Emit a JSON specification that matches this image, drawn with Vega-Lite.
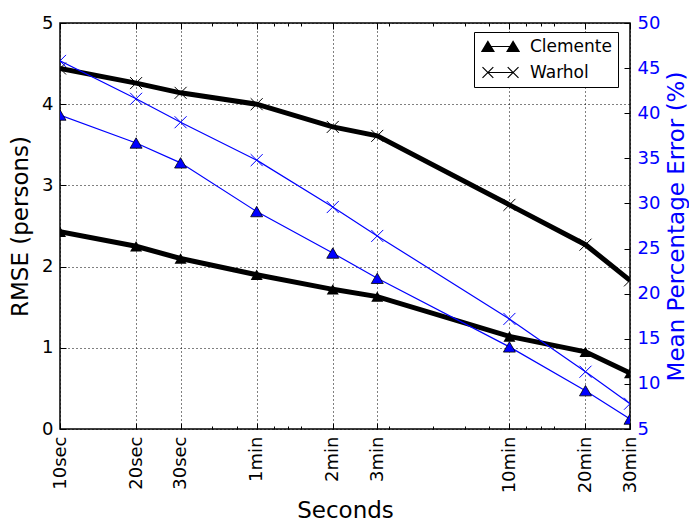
{
  "$schema": "https://vega.github.io/schema/vega-lite/v6.json",
  "width": 570,
  "height": 406,
  "autosize": {"type": "none"},
  "padding": {"left": 60, "top": 23, "right": 59, "bottom": 93},
  "background": "white",
  "config": {
    "view": {"stroke": "black", "strokeWidth": 1.5},
    "font": "DejaVu Sans",
    "axis": {
      "labelFont": "DejaVu Sans",
      "titleFont": "DejaVu Sans",
      "labelFontSize": 18,
      "titleFontSize": 23,
      "titleFontWeight": "normal",
      "labelColor": "black",
      "titleColor": "black",
      "tickColor": "black",
      "domain": false,
      "grid": false
    }
  },
  "data": {
    "values": [
      {"t": 10, "series": "Clemente", "rmse": 2.43, "mpe": 39.8},
      {"t": 20, "series": "Clemente", "rmse": 2.25, "mpe": 36.7},
      {"t": 30, "series": "Clemente", "rmse": 2.10, "mpe": 34.5},
      {"t": 60, "series": "Clemente", "rmse": 1.90, "mpe": 29.1},
      {"t": 120, "series": "Clemente", "rmse": 1.72, "mpe": 24.5},
      {"t": 180, "series": "Clemente", "rmse": 1.63, "mpe": 21.7},
      {"t": 600, "series": "Clemente", "rmse": 1.14, "mpe": 14.1},
      {"t": 1200, "series": "Clemente", "rmse": 0.95, "mpe": 9.25},
      {"t": 1800, "series": "Clemente", "rmse": 0.69, "mpe": 6.1},
      {"t": 10, "series": "Warhol", "rmse": 4.44, "mpe": 45.8},
      {"t": 20, "series": "Warhol", "rmse": 4.26, "mpe": 41.6},
      {"t": 30, "series": "Warhol", "rmse": 4.14, "mpe": 39.0},
      {"t": 60, "series": "Warhol", "rmse": 4.00, "mpe": 34.8},
      {"t": 120, "series": "Warhol", "rmse": 3.72, "mpe": 29.6},
      {"t": 180, "series": "Warhol", "rmse": 3.61, "mpe": 26.4},
      {"t": 600, "series": "Warhol", "rmse": 2.76, "mpe": 17.2},
      {"t": 1200, "series": "Warhol", "rmse": 2.27, "mpe": 11.35},
      {"t": 1800, "series": "Warhol", "rmse": 1.83, "mpe": 7.8}
    ]
  },
  "layer": [
    {
      "encoding": {
        "x": {
          "field": "t", "type": "quantitative",
          "scale": {"type": "log", "domain": [10, 1800], "nice": false},
          "axis": {
            "orient": "bottom",
            "title": "Seconds",
            "values": [10, 20, 30, 60, 120, 180, 600, 1200, 1800],
            "labelExpr": "datum.value < 60 ? datum.value + 'sec' : (datum.value / 60) + 'min'",
            "labelAngle": -90,
            "labelPadding": 13,
            "tickSize": -6,
            "grid": true,
            "gridColor": "black",
            "gridDash": [1, 3],
            "gridWidth": 1,
            "titlePadding": 7
          }
        },
        "y": {
          "field": "rmse", "type": "quantitative",
          "scale": {"domain": [0, 5], "nice": false, "zero": false},
          "axis": {
            "orient": "left",
            "title": "RMSE (persons)",
            "values": [0, 1, 2, 3, 4, 5],
            "tickSize": -6,
            "labelPadding": 13,
            "grid": true,
            "gridColor": "black",
            "gridDash": [1, 3],
            "gridWidth": 1,
            "titlePadding": 9
          }
        }
      },
      "layer": [
        {
          "mark": {"type": "line", "color": "black", "strokeWidth": 5, "clip": true},
          "encoding": {"detail": {"field": "series"}}
        },
        {
          "transform": [{"filter": "datum.series === 'Clemente'"}],
          "mark": {"type": "point", "shape": "triangle-up", "filled": true, "color": "black", "size": 144, "opacity": 1, "clip": true}
        },
        {
          "transform": [{"filter": "datum.series === 'Warhol'"}],
          "mark": {"type": "point", "shape": "M-1,-1L1,1M-1,1L1,-1", "filled": false, "color": "black", "strokeWidth": 1, "size": 144, "opacity": 1, "clip": true}
        },
        {
          "mark": {"type": "point", "filled": false, "color": "black", "strokeWidth": 1.2, "opacity": 0, "size": 144},
          "encoding": {
            "shape": {
              "field": "series", "type": "nominal",
              "scale": {
                "domain": ["Clemente", "Warhol"],
                "range": [
                  "M-2.1,0L2.1,0M-2.1,-0.85L-3.1,0.8L-1.1,0.8ZM-2.1,-0.85L-2.1,0.8M-2.19,-0.7L-2.01,-0.7M-2.28,-0.55L-1.92,-0.55M-2.37,-0.4L-1.83,-0.4M-2.46,-0.25L-1.74,-0.25M-2.55,-0.1L-1.65,-0.1M-2.65,0.05L-1.55,0.05M-2.74,0.2L-1.46,0.2M-2.83,0.35L-1.37,0.35M-2.92,0.5L-1.28,0.5M-3.01,0.65L-1.19,0.65M2.1,-0.85L1.1,0.8L3.1,0.8ZM2.1,-0.85L2.1,0.8M2.01,-0.7L2.19,-0.7M1.92,-0.55L2.28,-0.55M1.83,-0.4L2.37,-0.4M1.74,-0.25L2.46,-0.25M1.65,-0.1L2.55,-0.1M1.55,0.05L2.65,0.05M1.46,0.2L2.74,0.2M1.37,0.35L2.83,0.35M1.28,0.5L2.92,0.5M1.19,0.65L3.01,0.65",
                  "M-2.1,0L2.1,0M-3,-0.9L-1.2,0.9M-3,0.9L-1.2,-0.9M1.2,-0.9L3,0.9M1.2,0.9L3,-0.9"
                ]
              },
              "legend": {
                "orient": "none",
                "legendX": 414,
                "legendY": 9,
                "title": null,
                "strokeColor": "black",
                "fillColor": "white",
                "cornerRadius": 0,
                "padding": 6,
                "labelFont": "DejaVu Sans",
                "labelFontSize": 17,
                "labelColor": "black",
                "symbolSize": 144,
                "symbolOffset": 12,
                "labelOffset": 21,
                "rowPadding": 8,
                "symbolOpacity": 1,
                "symbolStrokeColor": "black",
                "symbolStrokeWidth": 1.2
              }
            }
          }
        }
      ]
    },
    {
      "encoding": {
        "x": {
          "field": "t", "type": "quantitative",
          "scale": {"type": "log", "domain": [10, 1800], "nice": false},
          "axis": {
            "orient": "top",
            "title": null,
            "values": [10, 20, 30, 60, 120, 180, 600, 1200, 1800],
            "labels": false,
            "tickSize": -6
          }
        },
        "y": {
          "field": "mpe", "type": "quantitative",
          "scale": {"domain": [5, 50], "nice": false, "zero": false},
          "axis": {
            "orient": "right",
            "title": "Mean Percentage Error (%)",
            "titleColor": "#0000ff",
            "labelColor": "#0000ff",
            "titleAngle": 270,
            "titleBaseline": "top",
            "values": [5, 10, 15, 20, 25, 30, 35, 40, 45, 50],
            "tickSize": -6,
            "labelPadding": 13,
            "titlePadding": 6
          }
        }
      },
      "layer": [
        {
          "mark": {"type": "line", "color": "#0000ff", "strokeWidth": 1.2, "clip": true},
          "encoding": {"detail": {"field": "series"}}
        },
        {
          "transform": [{"filter": "datum.series === 'Clemente'"}],
          "mark": {"type": "point", "shape": "triangle-up", "filled": true, "fill": "#0000ff", "stroke": "black", "strokeWidth": 0.8, "size": 144, "opacity": 1, "clip": true}
        },
        {
          "transform": [{"filter": "datum.series === 'Warhol'"}],
          "mark": {"type": "point", "shape": "M-1,-1L1,1M-1,1L1,-1", "filled": false, "color": "#0000ff", "strokeWidth": 1, "size": 144, "opacity": 1, "clip": true}
        }
      ]
    },
    {
      "mark": {"type": "point", "opacity": 0},
      "encoding": {
        "x": {
          "field": "t", "type": "quantitative",
          "scale": {"type": "log", "domain": [10, 1800], "nice": false},
          "axis": {
            "orient": "bottom",
            "title": null,
            "values": [40, 50, 70, 80, 90, 200, 300, 400, 500, 700, 800, 900],
            "labels": false,
            "tickSize": -3
          }
        }
      }
    },
    {
      "mark": {"type": "point", "opacity": 0},
      "encoding": {
        "x": {
          "field": "t", "type": "quantitative",
          "scale": {"type": "log", "domain": [10, 1800], "nice": false},
          "axis": {
            "orient": "top",
            "title": null,
            "values": [40, 50, 70, 80, 90, 200, 300, 400, 500, 700, 800, 900],
            "labels": false,
            "tickSize": -3
          }
        }
      }
    }
  ],
  "resolve": {
    "scale": {"y": "independent"},
    "axis": {"x": "independent", "y": "independent"}
  }
}
